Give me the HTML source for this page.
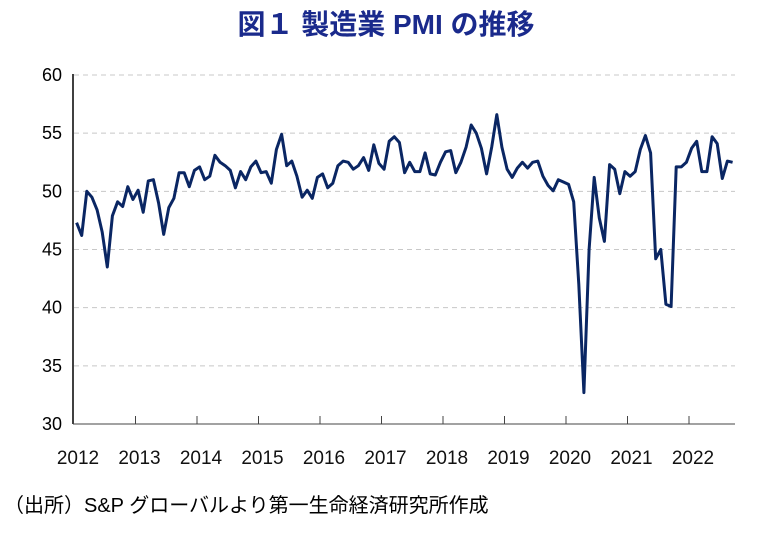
<!DOCTYPE html>
<html><head><meta charset="utf-8"><style>
html,body{margin:0;padding:0;background:#fff;}
body{width:774px;height:529px;overflow:hidden;font-family:"Liberation Sans","Noto Sans CJK JP",sans-serif;}
</style></head><body>
<svg width="774" height="529" xmlns="http://www.w3.org/2000/svg">
<text x="386" y="34" text-anchor="middle" font-size="28" font-weight="bold" fill="#1a2a8c" font-family="Liberation Sans, Noto Sans CJK JP, sans-serif">図１ 製造業 PMI の推移</text>
<g id="grid"></g><g id="yt"></g><g id="xt"></g>
<path id="line" fill="none" stroke="#0a2663" stroke-width="3" stroke-linejoin="round"/>
<text x="4" y="512" font-size="20" fill="#000" font-family="Liberation Sans, Noto Sans CJK JP, sans-serif">（出所）S&amp;P グローバルより第一生命経済研究所作成</text>
</svg>
<script>
const years=["2012","2013","2014","2015","2016","2017","2018","2019","2020","2021","2022"];
const yTicks=[30,35,40,45,50,55,60];
const pmi=[47.3,46.2,50.0,49.5,48.4,46.5,43.5,47.9,49.1,48.7,50.4,49.3,
50.1,48.2,50.9,51.0,49.0,46.3,48.6,49.4,51.6,51.6,50.4,51.8,
52.1,51.0,51.3,53.1,52.5,52.2,51.8,50.3,51.7,51.0,52.1,52.6,
51.6,51.7,50.7,53.6,54.9,52.2,52.6,51.3,49.5,50.1,49.4,51.2,
51.5,50.3,50.7,52.2,52.6,52.5,51.9,52.2,52.9,51.8,54.0,52.4,
51.9,54.3,54.7,54.2,51.6,52.5,51.7,51.7,53.3,51.5,51.4,52.5,
53.4,53.5,51.6,52.5,53.8,55.7,55.0,53.7,51.5,53.8,56.6,53.8,
51.9,51.2,52.0,52.5,52.0,52.5,52.6,51.3,50.5,50.05,51.0,50.8,
50.6,49.1,42.0,32.7,45.0,51.2,47.7,45.7,52.3,51.9,49.8,51.7,
51.3,51.7,53.6,54.8,53.3,44.2,45.0,40.3,40.1,52.1,52.1,52.5,
53.7,54.3,51.7,51.7,54.7,54.1,51.1,52.6,52.5];
const NS="http://www.w3.org/2000/svg";
const X0=74,YW=61.5,MW=YW/12;
const x=i=>X0+(i+0.5)*MW;
const y=v=>424-(v-30)*(349/30);
function mk(t,a,p){const e=document.createElementNS(NS,t);for(const k in a)e.setAttribute(k,a[k]);p.appendChild(e);return e;}
const grid=document.getElementById('grid'),yt=document.getElementById('yt'),xt=document.getElementById('xt');
yTicks.forEach(v=>{
 if(v>30){const g=mk('line',{x1:74,x2:735,y1:y(v),y2:y(v),stroke:'#c8c8c8','stroke-dasharray':'5,4','stroke-width':1},grid);
 
 }
 const t=mk('text',{x:62,y:y(v)+6,'text-anchor':'end','font-size':18,fill:'#000'},yt);t.textContent=v;
 
 
});
const ax=mk('line',{x1:73,x2:73,y1:74,y2:424,stroke:'#000','stroke-width':1.5},grid);


const bx=mk('line',{x1:73,x2:735,y1:424,y2:424,stroke:'#444','stroke-width':1},grid);


years.forEach((yr,k)=>{
 const tx=X0+(k+1)*YW;
 if(k<years.length-1){const tk=mk('line',{x1:tx,x2:tx,y1:416,y2:424,stroke:'#444'},xt);
 
 }
 const t=mk('text',{x:X0+k*YW+4,y:464,'text-anchor':'middle','font-size':19,fill:'#111'},xt);t.textContent=yr;
 
 
});
document.getElementById('line').setAttribute('d',pmi.map((v,i)=>(i?'L':'M')+x(i).toFixed(1)+','+y(v).toFixed(1)).join(''));
</script>
</body></html>
